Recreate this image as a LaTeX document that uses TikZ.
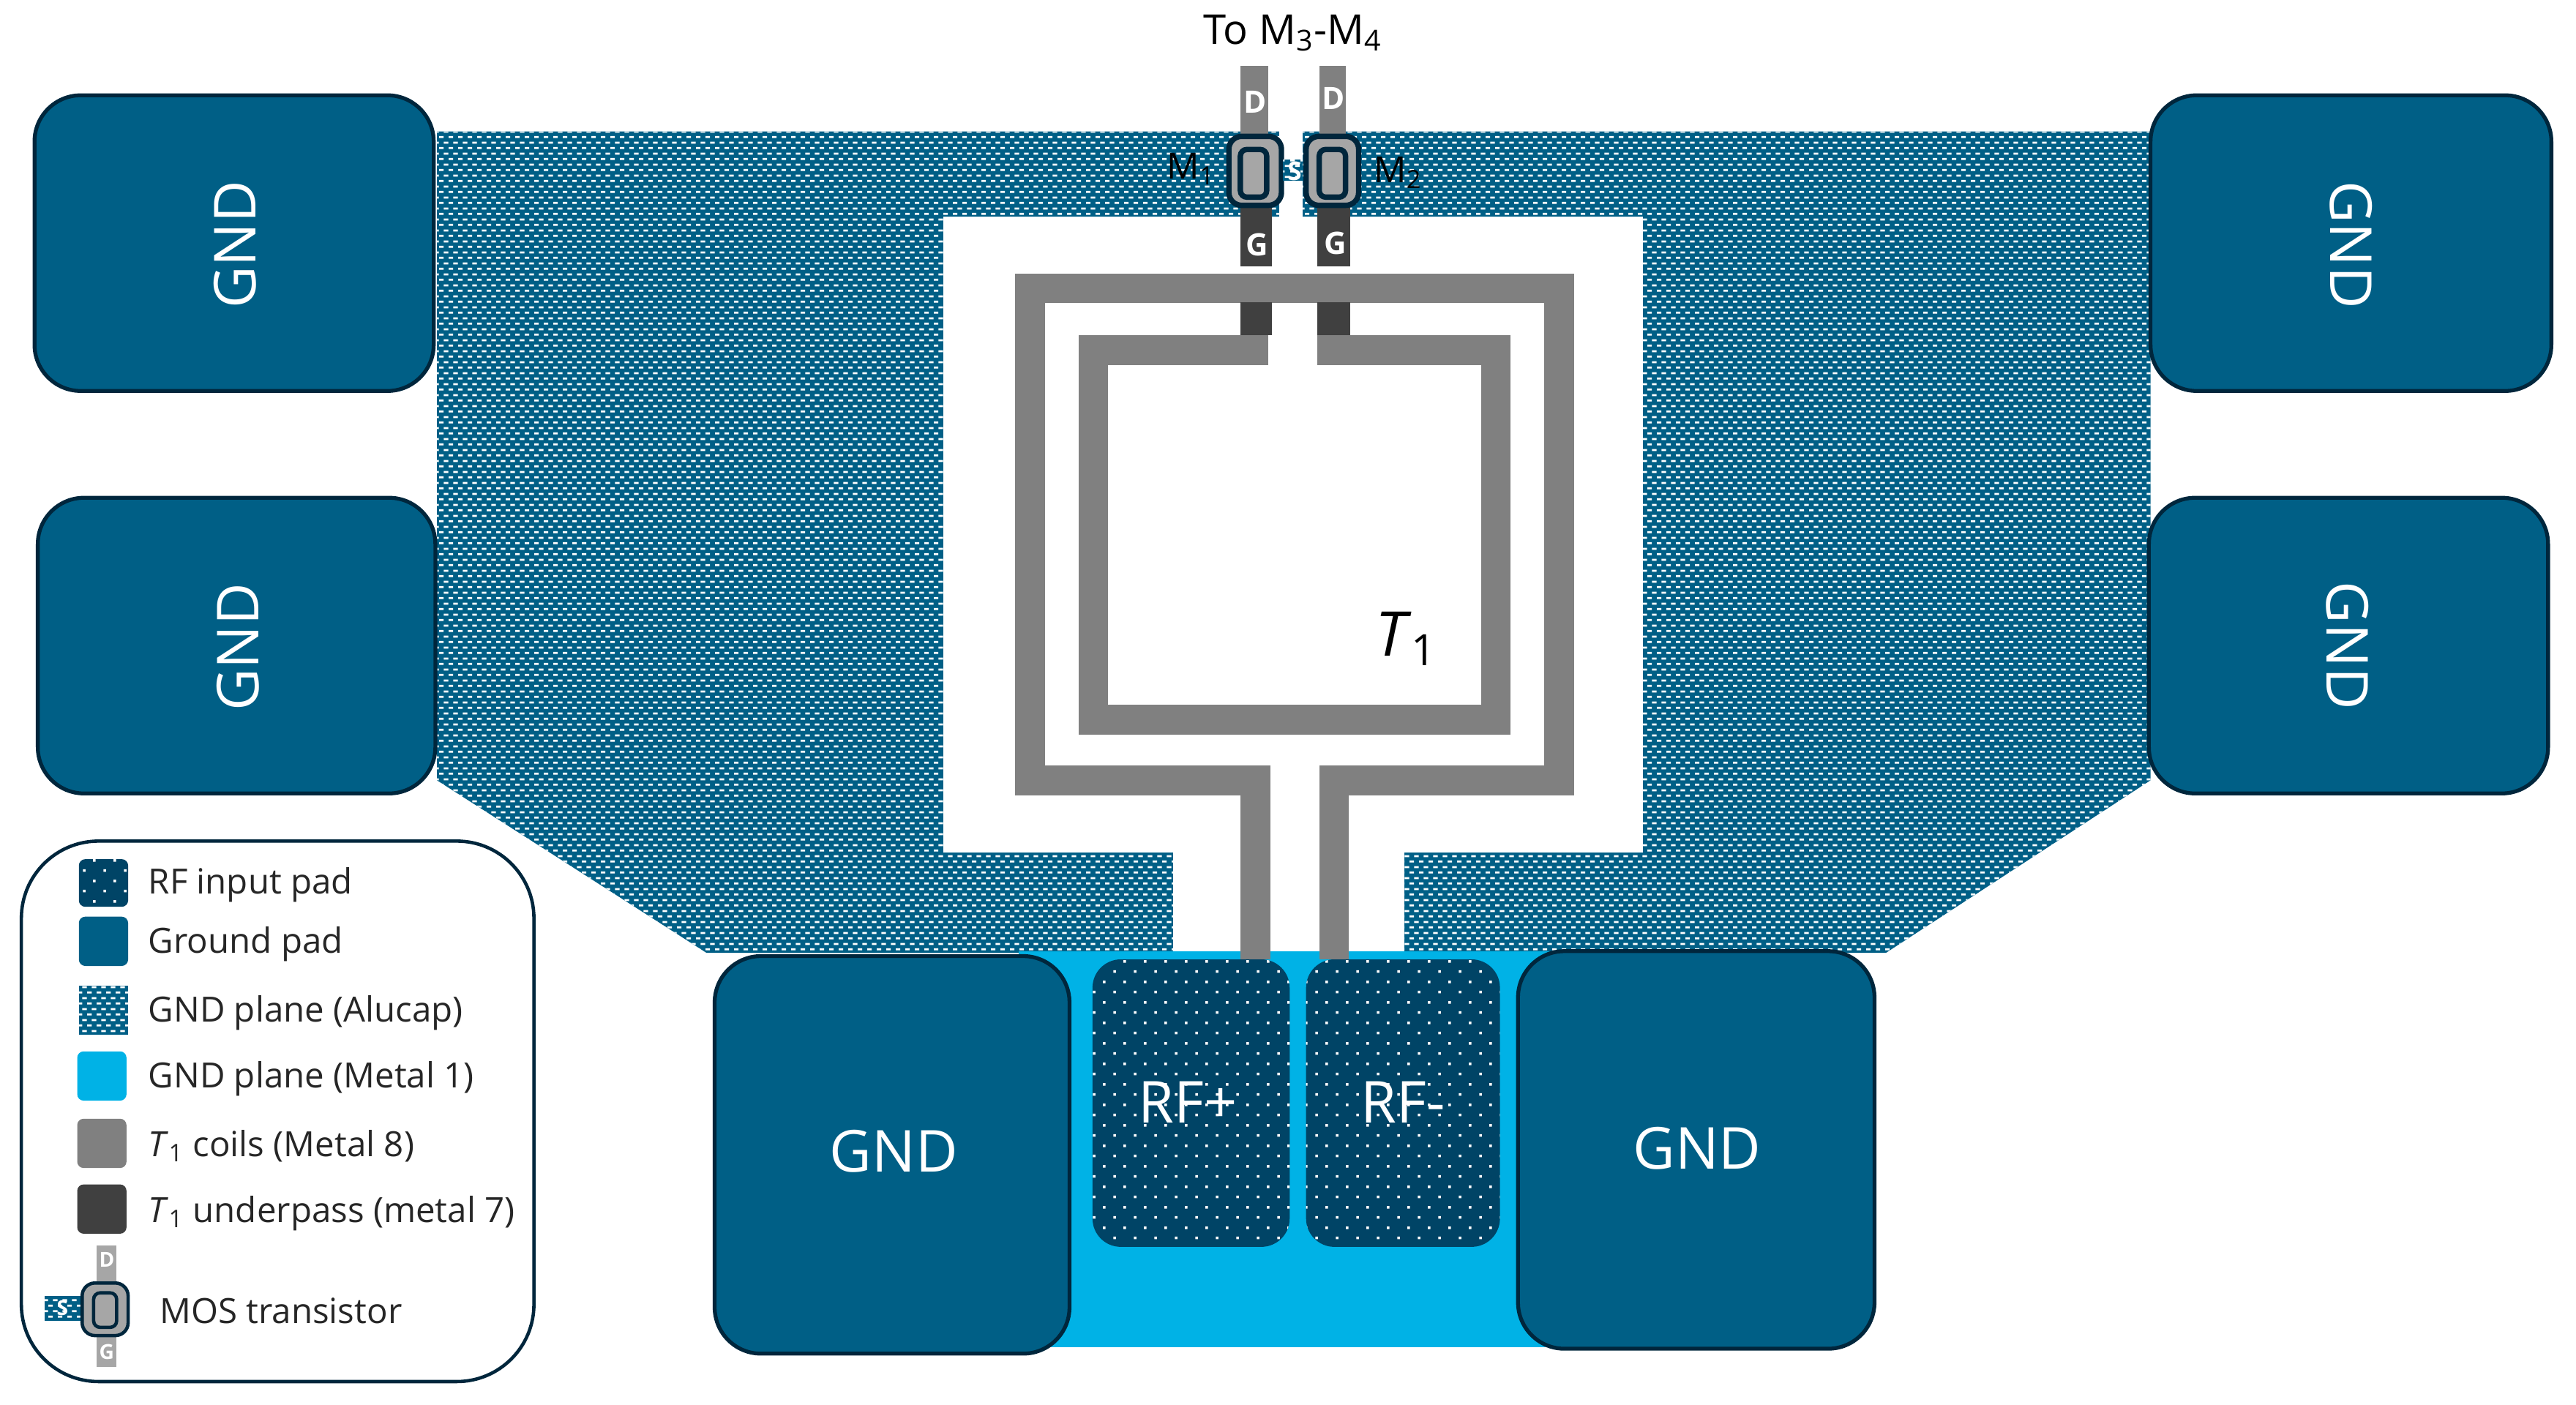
\documentclass[tikz,border=0pt]{standalone}
\usepackage{fontspec}
\setmainfont{Open Sans}
\usetikzlibrary{patterns}
\definecolor{padblue}{HTML}{005F86}
\definecolor{padline}{HTML}{00263C}
\definecolor{rfblue}{HTML}{004466}
\definecolor{metalone}{HTML}{00B2E6}
\definecolor{coilgray}{HTML}{808080}
\definecolor{passgray}{HTML}{404040}
\definecolor{mosgray}{HTML}{A6A6A6}
\pgfdeclarepatternformonly{alucap}{\pgfqpoint{0pt}{0pt}}{\pgfqpoint{3.8pt}{4.2pt}}{\pgfqpoint{3.8pt}{4.2pt}}{
    \pgfpathrectangle{\pgfqpoint{0pt}{0.4pt}}{\pgfqpoint{1.85pt}{0.8pt}}
    \pgfpathrectangle{\pgfqpoint{1.9pt}{2.5pt}}{\pgfqpoint{1.85pt}{0.8pt}}
    \pgfusepath{fill}
}
\pgfdeclarepatternformonly{rfdots}{\pgfqpoint{0pt}{0pt}}{\pgfqpoint{7.85pt}{7.94pt}}{\pgfqpoint{7.85pt}{7.94pt}}{
    \pgfpathrectangle{\pgfqpoint{1pt}{1pt}}{\pgfqpoint{1pt}{1pt}}
    \pgfpathrectangle{\pgfqpoint{4.92pt}{4.97pt}}{\pgfqpoint{1pt}{1pt}}
    \pgfusepath{fill}
}
\tikzset{
    gndpad/.style={draw=padline, line width=1.5pt, fill=padblue, rounded corners=18pt},
    padtext/.style={text=white, font=\fontsize{22.5}{24}\selectfont},
    rfpad/.style={fill=rfblue, postaction={pattern=rfdots, pattern color=white}, rounded corners=11pt},
    aluplane/.style={fill=padblue, postaction={pattern=alucap, pattern color=white}},
    coil/.style={draw=coilgray, line width=11.6pt, line join=miter},
    mosbody/.style={draw=padline, line width=2.1pt, fill=mosgray, rounded corners=5pt},
    mosgate/.style={draw=padline, line width=2.1pt, fill=mosgray, rounded corners=2.5pt},
    moslabel/.style={text=black, font=\fontsize{14}{16}\selectfont},
    termtext/.style={text=white, font=\bfseries\fontsize{12}{14}\selectfont},
    termsmall/.style={text=white, font=\bfseries\fontsize{8}{10}\selectfont},
    swatch/.style={rounded corners=2.5pt},
    legtext/.style={anchor=west, inner sep=0pt, text=black!85, font=\fontsize{13.5}{15}\selectfont}
}
\begin{document}
\begin{tikzpicture}[x=0.022449cm, y=-0.022449cm]
    \useasboundingbox (0,0) rectangle (1568,855.27);
    % ground plane and the window in it
    \path[aluplane] (266,80) -- (1309,80) -- (1309,475) -- (1148,580) -- (430,580) -- (266,475) -- cycle;
    \fill[white] (778.5,78) rectangle (793,133);
    \fill[white] (574,132) rectangle (1000,519);
    \fill[white] (714,519) rectangle (855,581);
    \fill[metalone] (620,579) rectangle (960,820);
    % coils
    \draw[coil] (764,475) -- (627,475) -- (627,175.5) -- (949,175.5) -- (949,475) -- (812,475);
    \draw[coil] (772,213) -- (665.5,213) -- (665.5,438) -- (910.5,438) -- (910.5,213) -- (802,213);
    \fill[coilgray] (755,466) rectangle (773.5,584);
    \fill[coilgray] (803,466) rectangle (821,584);
    \fill[passgray] (755,184) rectangle (774,204);
    \fill[passgray] (802,184) rectangle (822,204);
    \node[text=black, font=\fontsize{24}{26}\selectfont] (tname) at (856,389) {\textit{T}\textsubscript{1}};
    % transistors
    \fill[coilgray] (755,40) rectangle (772,84);
    \fill[coilgray] (803,40) rectangle (819,84);
    \fill[passgray] (755,124) rectangle (774,162);
    \fill[passgray] (802,124) rectangle (822,162);
    \draw[mosbody] (748,83) rectangle (780,125);
    \draw[mosgate] (755,91) rectangle (771,120);
    \draw[mosbody] (795,83) rectangle (827,125);
    \draw[mosgate] (803,91) rectangle (819,120);
    \path[aluplane] (781,97) rectangle (793,110);
    \node[termsmall, font=\bfseries\fontsize{10}{12}\selectfont] (s12) at (788,104) {S};
    \node[termtext] (d1) at (764,62) {D};
    \node[termtext] (d2) at (811.5,60) {D};
    \node[termtext] (g1) at (765,149) {G};
    \node[termtext] (g2) at (813,148) {G};
    \node[moslabel] (m1) at (725,103) {M\textsubscript{1}};
    \node[moslabel] (m2) at (851,105) {M\textsubscript{2}};
    \node[moslabel, font=\fontsize{16}{18}\selectfont] (tom) at (787,20) {To M\textsubscript{3}-M\textsubscript{4}};
    % pads
    \draw[gndpad] (21,58) rectangle (264,238);
    \draw[gndpad] (23,303) rectangle (265,483);
    \draw[gndpad] (1309,58) rectangle (1553,238);
    \draw[gndpad] (1308,303) rectangle (1551,483);
    \draw[gndpad] (435,582) rectangle (651,824);
    \draw[gndpad] (924,579) rectangle (1141,821);
    \node[padtext, rotate=90] (gnda) at (143,149) {GND};
    \node[padtext, rotate=90] (gndb) at (145,394) {GND};
    \node[padtext, rotate=-90] (gndc) at (1431,149) {GND};
    \node[padtext, rotate=-90] (gndd) at (1429,393) {GND};
    \node[padtext] (gnde) at (544,701) {GND};
    \node[padtext] (gndf) at (1033,699) {GND};
    \path[rfpad] (665,584) rectangle (785,759);
    \path[rfpad] (795,584) rectangle (913,759);
    \node[padtext] (rfp) at (723,671) {RF+};
    \node[padtext] (rfm) at (854,671) {RF-};
    % legend
    \draw[draw=padline, line width=1.3pt, rounded corners=30pt] (13,512) rectangle (325,841);
    \path[swatch, fill=rfblue, postaction={pattern=rfdots, pattern color=white}] (48,523) rectangle (78,552);
    \fill[swatch, padblue] (48,558) rectangle (78,588);
    \path[aluplane] (48,600) rectangle (78,630);
    \fill[swatch, metalone] (47,640) rectangle (77,670);
    \fill[swatch, coilgray] (47,681) rectangle (77,711);
    \fill[swatch, passgray] (47,721) rectangle (77,751);
    \node[legtext] (leg1) at (90,538.5) {RF input pad};
    \node[legtext] (leg2) at (90,574.5) {Ground pad};
    \node[legtext] (leg3) at (90,616.5) {GND plane (Alucap)};
    \node[legtext] (leg4) at (90,656.5) {GND plane (Metal 1)};
    \node[legtext] (leg5) at (90,697.5) {\textit{T}\textsubscript{1} coils (Metal 8)};
    \node[legtext] (leg6) at (90,738.5) {\textit{T}\textsubscript{1} underpass (metal 7)};
    \node[legtext] (leg7) at (97,798) {MOS transistor};
    % legend transistor
    \fill[mosgray] (59,758) rectangle (71,782);
    \fill[mosgray] (59,812) rectangle (71,832);
    \path[aluplane] (27,789) rectangle (51,804);
    \draw[mosbody, line width=1.3pt] (50,781) rectangle (78,813);
    \draw[mosgate, line width=1.3pt] (57,787) rectangle (71,808);
    \node[termsmall] (legd) at (65,767) {D};
    \node[termsmall] (legg) at (65,823) {G};
    \node[termsmall] (legs) at (38,796) {S};
\end{tikzpicture}
\end{document}
